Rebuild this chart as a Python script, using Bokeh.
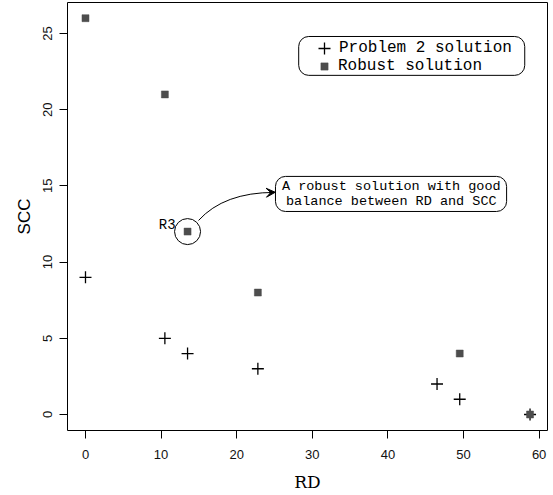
from bokeh.plotting import figure
from bokeh.models import (Range1d, FixedTicker, Legend, LegendItem, BoxAnnotation,
                          Label, Arrow, VeeHead, ColumnDataSource)
from bokeh.embed import file_html
from bokeh.resources import INLINE

# ---- data ----
p2_rd = [0, 10.5, 13.5, 22.8, 46.5, 49.5, 58.8]
p2_scc = [9, 5, 4, 3, 2, 1, 0]
rob_rd = [0, 10.5, 13.5, 22.8, 49.5, 58.8]
rob_scc = [26, 21, 12, 8, 4, 0]
x_ticks = [0, 10, 20, 30, 40, 50, 60]
y_ticks = [0, 5, 10, 15, 20, 25]
r3_index = 2

p = figure(width=553, height=495, output_backend="svg", toolbar_location=None,
           x_range=Range1d(-2.38, 61.11), y_range=Range1d(-1.05, 27.03),
           min_border_left=67, min_border_right=6, min_border_top=2,
           min_border_bottom=65)
p.xgrid.visible = False
p.ygrid.visible = False
p.outline_line_color = "black"
p.outline_line_width = 1
p.background_fill_color = "white"
p.border_fill_color = "white"

for ax in (p.xaxis[0], p.yaxis[0]):
    ax.axis_line_color = None
    ax.major_tick_in = 0
    ax.major_tick_out = 8
    ax.major_tick_line_color = "black"
    ax.minor_tick_line_color = None
    ax.major_label_text_font = "Liberation Sans"
    ax.major_label_text_font_size = "13px"
    ax.major_label_text_color = "#111111"
    ax.axis_label_text_font_style = "normal"
    ax.axis_label_text_font_size = "17px"
    ax.axis_label_text_color = "black"

p.xaxis.ticker = FixedTicker(ticks=x_ticks)
p.yaxis.ticker = FixedTicker(ticks=y_ticks)
p.xaxis.axis_label = "RD"
p.xaxis.axis_label_text_font = "DejaVu Serif"
p.xaxis.major_label_standoff = 11
p.xaxis.axis_label_standoff = 10
p.yaxis.axis_label = "SCC"
p.yaxis.axis_label_text_font = "Liberation Sans"
p.yaxis.major_label_orientation = "vertical"
p.yaxis.major_label_standoff = 7
p.yaxis.axis_label_standoff = 7

src_p2 = ColumnDataSource(dict(x=p2_rd, y=p2_scc))
src_rob = ColumnDataSource(dict(x=rob_rd, y=rob_scc))

r_plus = p.scatter("x", "y", source=src_p2, marker="cross", size=12,
                   line_color="black", line_width=1.3)
r_sq = p.scatter("x", "y", source=src_rob, marker="square", size=7,
                 fill_color="#4d4d4d", line_color="#4d4d4d", line_width=0.5)

# circle around R3
p.scatter([rob_rd[r3_index]], [rob_scc[r3_index]], marker="circle", size=26,
          fill_alpha=0, line_color="black", line_width=1)
p.add_layout(Label(x=rob_rd[r3_index], y=rob_scc[r3_index], x_offset=-12, y_offset=7,
                   text="R3", text_align="right", text_baseline="middle",
                   text_font="Liberation Mono", text_font_size="14px",
                   text_color="black"))

# curved arrow
p.quadratic(x0=[14.95], y0=[12.73], x1=[25.0], y1=[14.57], cx=[18.32], cy=[14.57],
            line_color="black", line_width=1)
p.add_layout(Arrow(end=VeeHead(size=9, fill_color="black", line_color="black"),
                   x_start=24.3, y_start=14.56, x_end=25.1, y_end=14.58,
                   line_color="black", line_width=1))

# annotation box
p.add_layout(BoxAnnotation(left=25.13, right=55.7, bottom=13.32, top=15.62,
                           border_radius=10, fill_alpha=0, line_color="black",
                           line_width=1, line_alpha=1))
p.add_layout(Label(x=40.45, y=14.96, text="A robust solution with good",
                   text_align="center", text_baseline="middle",
                   text_font="Liberation Mono", text_font_size="13.5px", text_color="black"))
p.add_layout(Label(x=40.45, y=13.98, text="balance between RD and SCC",
                   text_align="center", text_baseline="middle",
                   text_font="Liberation Mono", text_font_size="13.5px", text_color="black"))

# legend box
p.add_layout(BoxAnnotation(left=28.2, right=58.1, bottom=22.25, top=24.8,
                           border_radius=10, fill_alpha=0, line_color="black",
                           line_width=1, line_alpha=1))

leg1 = Legend(items=[LegendItem(label="Problem 2 solution", renderers=[r_plus])],
              location=(242, 367), glyph_width=30, glyph_height=30, label_height=30,
              label_standoff=0, padding=0, margin=0, border_line_color=None,
              background_fill_alpha=0, label_text_font="Liberation Mono",
              label_text_font_size="16px", label_text_color="black")
leg2 = Legend(items=[LegendItem(label="Robust solution", renderers=[r_sq])],
              location=(248, 355), glyph_width=18, glyph_height=18, label_height=18,
              label_standoff=5, padding=0, margin=0, border_line_color=None,
              background_fill_alpha=0, label_text_font="Liberation Mono",
              label_text_font_size="16px", label_text_color="black")
p.add_layout(leg1)
p.add_layout(leg2)

open("out.html", "w").write(file_html(p, INLINE))
